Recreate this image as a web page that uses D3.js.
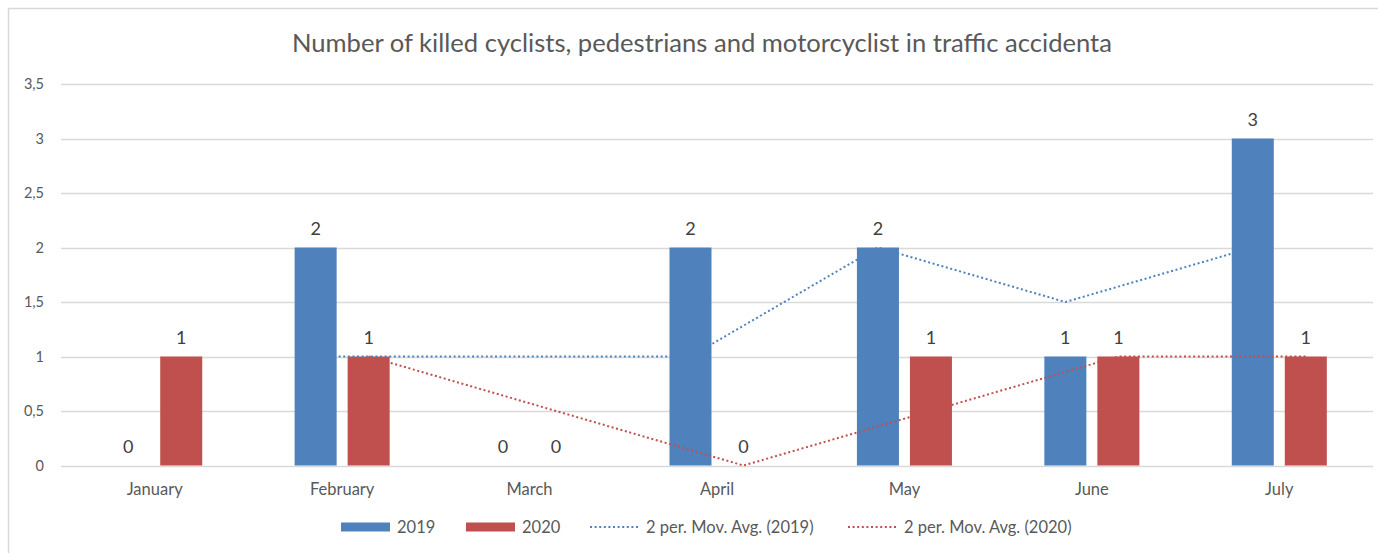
<!DOCTYPE html>
<html>
<head>
<meta charset="utf-8">
<script src="https://cdn.jsdelivr.net/npm/d3@7"></script>
<style>
  body { margin: 0; background: #fff; }
  svg text { font-family: Lato, "Open Sans", sans-serif; }
</style>
</head>
<body>
<svg id="chart" width="1378" height="553"></svg>
<script>
var months = ['January', 'February', 'March', 'April', 'May', 'June', 'July'];
var series = ['2019', '2020'];
var values2019 = [0, 2, 0, 2, 2, 1, 3];
var values2020 = [1, 1, 0, 0, 1, 1, 1];
var yTicks = [0, 0.5, 1, 1.5, 2, 2.5, 3, 3.5];
var title = 'Number of killed cyclists, pedestrians and motorcyclist in traffic accidenta';
var legendLabels = ['2019', '2020', '2 per. Mov. Avg. (2019)', '2 per. Mov. Avg. (2020)'];

var colors = { '2019': '#4f81bd', '2020': '#c0504d' };
var W = 1378, H = 553;
var svg = d3.select('#chart');

// chart frame
svg.append('rect')
  .attr('x', 8.5).attr('y', 8.5)
  .attr('width', W).attr('height', H)
  .attr('fill', '#fff').attr('stroke', '#d9d9d9').attr('stroke-width', 1.5);

svg.append('text')
  .attr('x', 702).attr('y', 52)
  .attr('text-anchor', 'middle')
  .attr('font-size', 25.6)
  .attr('fill', '#595959')
  .text(title);

var x = d3.scaleBand().domain(months).range([61, 1373]).padding(0);
var bw = x.bandwidth();
var xs = d3.scaleBand().domain(series)
  .range([bw * 0.2465, bw * 0.7535]).paddingInner(0.2075).paddingOuter(0);
var y = d3.scaleLinear().domain([0, 3.5]).range([465.5, 84]);

var loc = d3.formatLocale({ decimal: ',', thousands: '.', grouping: [3], currency: ['', ''] });
var fmt = function (d) { return loc.format('~g')(d); };

// grid
svg.append('g').selectAll('line')
  .data(yTicks)
  .join('line')
  .attr('x1', 61).attr('x2', 1373)
  .attr('y1', function (d) { return Math.round(y(d)) + 0.5; })
  .attr('y2', function (d) { return Math.round(y(d)) + 0.5; })
  .attr('stroke', '#d9d9d9').attr('stroke-width', 1.3);

svg.append('g').selectAll('text')
  .data(yTicks)
  .join('text')
  .attr('x', 44)
  .attr('y', function (d) { return y(d) + 5; })
  .attr('text-anchor', 'end')
  .attr('font-size', 14.5)
  .attr('fill', '#595959')
  .text(fmt);

svg.append('g').selectAll('text')
  .data(months)
  .join('text')
  .attr('x', function (d) { return x(d) + bw / 2; })
  .attr('y', 495)
  .attr('text-anchor', 'middle')
  .attr('font-size', 16.5)
  .attr('fill', '#595959')
  .text(function (d) { return d; });

var rows = [];
months.forEach(function (m, i) {
  rows.push({ m: m, s: '2019', v: values2019[i] });
  rows.push({ m: m, s: '2020', v: values2020[i] });
});

svg.append('g').selectAll('rect')
  .data(rows)
  .join('rect')
  .attr('x', function (d) { return x(d.m) + xs(d.s); })
  .attr('width', xs.bandwidth())
  .attr('y', function (d) { return y(d.v); })
  .attr('height', function (d) { return y(0) - y(d.v); })
  .attr('fill', function (d) { return colors[d.s]; });

// 2 period moving averages, centred on the series bar
function movAvg(vals) {
  var out = [];
  for (var i = 1; i < vals.length; i++) {
    out.push({ m: months[i], v: (vals[i] + vals[i - 1]) / 2 });
  }
  return out;
}
[['2019', values2019], ['2020', values2020]].forEach(function (p) {
  var line = d3.line()
    .x(function (d) { return x(d.m) + xs(p[0]) + xs.bandwidth() / 2; })
    .y(function (d) { return y(d.v); });
  svg.append('path')
    .datum(movAvg(p[1]))
    .attr('d', line)
    .attr('fill', 'none')
    .attr('stroke', colors[p[0]])
    .attr('stroke-width', 2)
    .attr('stroke-dasharray', '2 2.6');
});

svg.append('g').selectAll('text')
  .data(rows)
  .join('text')
  .attr('x', function (d) { return x(d.m) + xs(d.s) + xs.bandwidth() / 2; })
  .attr('y', function (d) { return y(d.v) - 13; })
  .attr('text-anchor', 'middle')
  .attr('font-size', 18)
  .attr('fill', '#404040')
  .text(function (d) { return d.v; });

// legend
var leg = svg.append('g');
var legX = [341, 466, 590, 848];
legendLabels.forEach(function (lab, i) {
  var g = leg.append('g').attr('transform', 'translate(' + legX[i] + ',527)');
  var c = colors[i % 2 === 0 ? '2019' : '2020'];
  if (i < 2) {
    g.append('rect').attr('x', 0).attr('y', -4.5).attr('width', 49).attr('height', 9).attr('fill', c);
  } else {
    g.append('line').attr('x1', 0).attr('x2', 48).attr('y1', 0).attr('y2', 0)
      .attr('stroke', c).attr('stroke-width', 2).attr('stroke-dasharray', '2 2.6');
  }
  g.append('text').attr('x', 56).attr('y', 5.5)
    .attr('font-size', 16.5).attr('fill', '#595959').text(lab);
});
</script>
</body>
</html>
